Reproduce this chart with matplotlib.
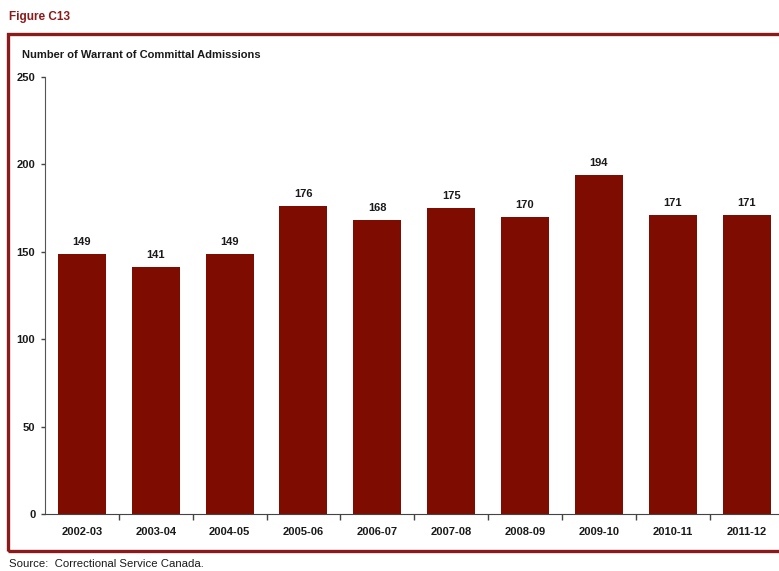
import matplotlib.pyplot as plt
from matplotlib.patches import Rectangle

plt.rcParams['font.family'] = ['Liberation Sans Narrow', 'Liberation Sans', 'DejaVu Sans']

years = ['2002-03', '2003-04', '2004-05', '2005-06', '2006-07',
         '2007-08', '2008-09', '2009-10', '2010-11', '2011-12']
admissions = [149, 141, 149, 176, 168, 175, 170, 194, 171, 171]

bar_color = '#7f0c00'
frame_color = '#8b1a1a'
text_color = '#1a1a1a'

fig = plt.figure(figsize=(7.79, 5.71), dpi=100)

# outer frame, right edge runs off the page
fig.patches.append(Rectangle((0.0103, 0.035), 1.0, 0.9055, transform=fig.transFigure,
                             fill=False, edgecolor=frame_color, linewidth=2.4))

ax = fig.add_axes([0.0578, 0.0998, 0.948, 0.7655])
x = range(len(years))
bars = ax.bar(x, admissions, width=0.65, color=bar_color)
for xi, v in zip(x, admissions):
    ax.text(xi, v + 4, str(v), ha='center', va='bottom', fontsize=8,
            fontweight='bold', color=text_color)

ax.set_xlim(-0.5, len(years) - 0.5)
ax.set_ylim(0, 250)
ax.set_yticks(range(0, 251, 50))
ax.set_xticks(x)
ax.set_xticklabels(years)
ax.set_xticks([i + 0.5 for i in x], minor=True)
ax.tick_params(axis='x', which='major', length=0, pad=9, labelsize=8, labelcolor=text_color)
ax.tick_params(axis='x', which='minor', length=4, direction='out', width=1, color='#444444')
ax.tick_params(axis='y', length=3, width=1, labelsize=8, labelcolor=text_color, pad=4,
               color='#444444')
for lbl in ax.get_xticklabels() + ax.get_yticklabels():
    lbl.set_fontweight('bold')

for side in ['top', 'right']:
    ax.spines[side].set_visible(False)
ax.spines['left'].set_color('#555555')
ax.spines['bottom'].set_color('#444444')

fig.text(0.0116, 0.97, 'Figure C13', fontsize=8.5, fontweight='bold',
         color=frame_color, va='center')
fig.text(0.028, 0.904, 'Number of Warrant of Committal Admissions', fontsize=8,
         fontweight='bold', color=text_color, va='center')
fig.text(0.0116, 0.013, 'Source:  Correctional Service Canada.', fontsize=8.2,
         color=text_color, va='center')

fig.savefig('out.png', dpi=100)
